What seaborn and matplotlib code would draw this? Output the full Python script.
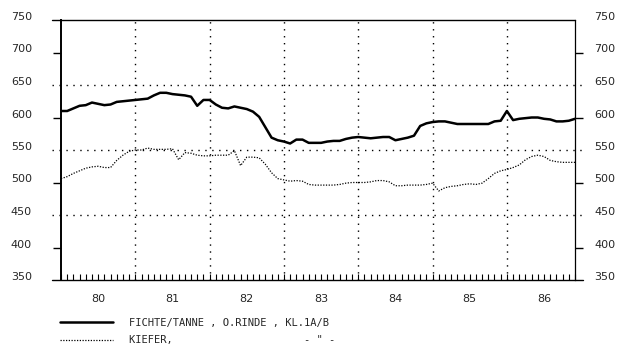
import numpy as np
import pandas as pd
import matplotlib
matplotlib.use("Agg")
import matplotlib.pyplot as plt
import seaborn as sns
from matplotlib.ticker import FixedLocator, MultipleLocator

# ---- data (monthly, Jan 1980 .. Dec 1986) ----
year_labels = ["80", "81", "82", "83", "84", "85", "86"]
y_tick_values = [350, 400, 450, 500, 550, 600, 650, 700, 750]

fichte = [610, 610, 614, 618, 619, 623, 621, 619, 620, 624, 625, 626,
          627, 628, 629, 634, 638, 638, 636, 635, 634, 632, 618, 627,
          627, 620, 615, 614, 617, 615, 613, 609, 601, 585, 569, 565,
          563, 560, 566, 566, 561, 561, 561, 563, 564, 564, 567, 569,
          570, 569, 568, 569, 570, 570, 565, 567, 569, 572, 587, 591,
          593, 594, 594, 592, 590, 590, 590, 590, 590, 590, 594, 595,
          610, 596, 598, 599, 600, 600, 598, 597, 594, 594, 595, 598]

kiefer = [506, 509, 514, 518, 522, 524, 525, 523, 523, 534, 542, 548,
          550, 550, 553, 551, 551, 551, 552, 535, 546, 545, 542, 541,
          541, 542, 542, 542, 549, 526, 539, 539, 538, 528, 515, 506,
          504, 502, 503, 502, 497, 496, 496, 496, 496, 497, 499, 500,
          500, 500, 501, 503, 503, 501, 495, 495, 496, 496, 496, 497,
          499, 487, 492, 494, 495, 497, 498, 497, 499, 506, 514, 518,
          520, 523, 527, 535, 540, 542, 540, 534, 532, 531, 531, 531]

label_fichte = "FICHTE/TANNE , O.RINDE , KL.1A/B"
label_kiefer = "KIEFER," + " " * 21 + '- " -'

month = np.arange(len(fichte))
df = pd.DataFrame({"month": month, "fichte": fichte, "kiefer": kiefer})

sns.set_style("white")
plt.rcParams["font.family"] = ["DejaVu Sans"]

W, H = 624, 346
fig = plt.figure(figsize=(W / 100, H / 100), dpi=100)
L, R, T, B = 61, 575, 20, 280
ax = fig.add_axes([L / W, 1 - B / H, (R - L) / W, (B - T) / H])

sns.lineplot(data=df, x="month", y="fichte", ax=ax, color="black",
             linewidth=1.8, label=label_fichte)
sns.lineplot(data=df, x="month", y="kiefer", ax=ax, color="black",
             linewidth=0.9, linestyle=(0, (1, 1.2)), label=label_kiefer)

ax.set_xlim(0, 83)
ax.set_ylim(350, 750)
ax.set_xlabel("")
ax.set_ylabel("")

ax2 = ax.twinx()
ax2.set_ylim(350, 750)
ax2.set_yticks(y_tick_values)
ax2.tick_params(axis="y", length=0, pad=14, labelsize=8)
for s in ax2.spines.values():
    s.set_visible(False)
for lab in ax2.get_yticklabels():
    lab.set_verticalalignment("baseline")

for s in ax.spines.values():
    s.set_color("black")
    s.set_linewidth(0.9)
ax.spines["left"].set_linewidth(1.4)
ax.spines["bottom"].set_visible(False)
ax.spines["top"].set_visible(False)

ext_l = -9 / (R - L)
ext_r = 1 + 8 / (R - L)
# top and bottom frame lines extending slightly outside
ax.axhline(750, xmin=ext_l, xmax=1, color="black", lw=1.0, clip_on=False)
ax.axhline(350, xmin=ext_l, xmax=ext_r, color="black", lw=1.0, clip_on=False)
# dotted grid
for v in [450, 550, 650]:
    ax.axhline(v, xmin=ext_l, xmax=ext_r, color="black", lw=1.0,
               linestyle=(0, (1, 4)), clip_on=False)
for i in range(1, len(year_labels)):
    ax.axvline(12 * i, color="black", lw=1.0, linestyle=(0, (1, 4)))

# x ticks: year labels centred, monthly ticks inward
ax.xaxis.remove_overlapping_locs = False
ax.set_xticks([12 * i + 6 for i in range(len(year_labels))])
ax.set_xticklabels(year_labels)
ax.xaxis.set_minor_locator(MultipleLocator(1))
ax.tick_params(axis="x", which="major", length=0, pad=10, labelsize=8)
ax.tick_params(axis="x", which="minor", bottom=True, direction="in",
               length=4, width=0.8, color="black")

# y ticks
ax.yaxis.remove_overlapping_locs = False
ax.set_yticks(y_tick_values)
ax.yaxis.set_minor_locator(FixedLocator([400, 500, 600, 700]))
ax.tick_params(axis="y", which="major", length=0, pad=21, labelsize=8,
               labelleft=True, labelright=False)
ax.tick_params(axis="y", which="minor", left=True, right=True,
               direction="out", length=6, width=1.0, color="black")
for lab in ax.get_yticklabels():
    lab.set_verticalalignment("baseline")

ax.legend(loc="upper left", bbox_to_anchor=(60 / W, 1 - 318 / H),
          bbox_transform=fig.transFigure, frameon=False,
          prop={"family": "DejaVu Sans Mono", "size": 7.5},
          handlelength=5.1, handletextpad=1.5, labelspacing=0.7,
          borderpad=0, borderaxespad=0)

fig.savefig("out.png", dpi=100)
